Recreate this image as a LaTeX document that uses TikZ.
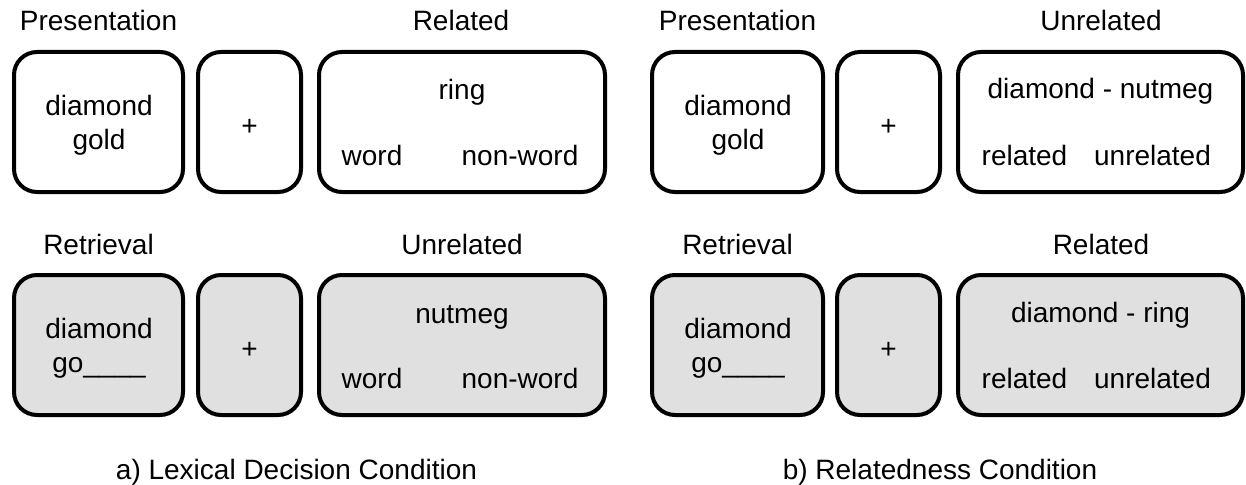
\documentclass[tikz,border=0pt]{standalone}
\usepackage{fontspec}
\setmainfont{Liberation Sans}
\definecolor{boxgray}{HTML}{E0E0E0}
\begin{document}
\begin{tikzpicture}[x=1pt,y=-1pt,
  frame/.style={draw=black, line width=4pt, rounded corners=23pt, minimum height=140pt, inner sep=0pt},
  light/.style={frame, fill=white},
  dark/.style={frame, fill=boxgray},
  txt/.style={anchor=base, inner sep=0pt, font=\fontsize{28}{34}\selectfont},
  plus/.style={anchor=center, inner sep=0pt, font=\fontsize{28}{34}\selectfont}]
\useasboundingbox (0,0) rectangle (1246,484);

% ---------- a) left panel, top row ----------
\node[light, minimum width=169pt] (aP1) at (98.5,122) {};
\node[light, minimum width=103pt] (aP2) at (249.5,122) {};
\node[light, minimum width=286pt] (aP3) at (462,122) {};
\node[txt] (aPlab) at (98.5,31) {Presentation};
\node[txt] (aRlab) at (461,31) {Related};
\node[txt] (aPw1) at (99,115) {diamond};
\node[txt] (aPw2) at (99,149) {gold};
\node[plus] (aPplus) at (249.5,127) {+};
\node[txt] (aPt) at (462,100) {ring};
\node[txt] (aPa) at (372,165) {word};
\node[txt] (aPb) at (520,165) {non-word};

% ---------- a) left panel, bottom row ----------
\node[dark, minimum width=169pt] (aR1) at (98.5,345) {};
\node[dark, minimum width=103pt] (aR2) at (249.5,345) {};
\node[dark, minimum width=286pt] (aR3) at (462,345) {};
\node[txt] (aRtlab) at (98.5,254) {Retrieval};
\node[txt] (aUlab) at (462,254) {Unrelated};
\node[txt] (aRw1) at (99,338) {diamond};
\node[txt] (aRw2) at (99,372) {go\_\_\_\_};
\node[plus] (aRplus) at (249.5,350) {+};
\node[txt] (aRt) at (462,323) {nutmeg};
\node[txt] (aRa) at (372,388) {word};
\node[txt] (aRb) at (520,388) {non-word};

\node[txt] (acap) at (296.5,479) {a) Lexical Decision Condition};

% ---------- b) right panel, top row ----------
\node[light, minimum width=171pt] (bP1) at (737.5,122) {};
\node[light, minimum width=103pt] (bP2) at (888.5,122) {};
\node[light, minimum width=285pt] (bP3) at (1100.5,122) {};
\node[txt] (bPlab) at (737.5,31) {Presentation};
\node[txt] (bUlab) at (1101,31) {Unrelated};
\node[txt] (bPw1) at (738,115) {diamond};
\node[txt] (bPw2) at (738,149) {gold};
\node[plus] (bPplus) at (888.5,127) {+};
\node[txt] (bPt) at (1100.5,99) {diamond - nutmeg};
\node[txt] (bPa) at (1024.5,165) {related};
\node[txt] (bPb) at (1152.5,165) {unrelated};

% ---------- b) right panel, bottom row ----------
\node[dark, minimum width=171pt] (bR1) at (737.5,345) {};
\node[dark, minimum width=103pt] (bR2) at (888.5,345) {};
\node[dark, minimum width=285pt] (bR3) at (1100.5,345) {};
\node[txt] (bRtlab) at (737.5,254) {Retrieval};
\node[txt] (bRlab) at (1101,254) {Related};
\node[txt] (bRw1) at (738,338) {diamond};
\node[txt] (bRw2) at (738,372) {go\_\_\_\_};
\node[plus] (bRplus) at (888.5,350) {+};
\node[txt] (bRt) at (1100.5,322) {diamond - ring};
\node[txt] (bRa) at (1024.5,388) {related};
\node[txt] (bRb) at (1152.5,388) {unrelated};

\node[txt] (bcap) at (940,479) {b) Relatedness Condition};
\end{tikzpicture}
\end{document}
